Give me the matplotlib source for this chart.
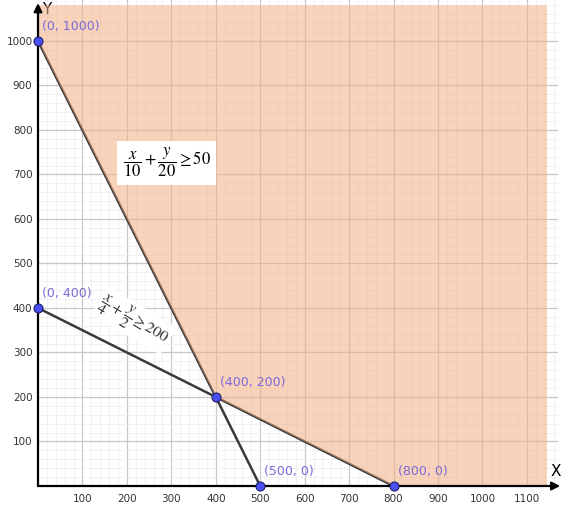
import matplotlib.pyplot as plt
from matplotlib.patches import Polygon
from matplotlib.ticker import MultipleLocator

plt.rcParams['mathtext.fontset'] = 'stix'

# corner points of the constraints
pt_x = [0, 0, 400, 500, 800]
pt_y = [1000, 400, 200, 0, 0]
pt_labels = ['(0, 1000)', '(0, 400)', '(400, 200)', '(500, 0)', '(800, 0)']

# constraint lines  x/10 + y/20 = 50  and  x/4 + y/2 = 200
line1_x = [0, 500]
line1_y = [1000, 0]
line2_x = [0, 800]
line2_y = [400, 0]

# feasible (shaded) region
region_x = [0, 0, 400, 800, 1145, 1145]
region_y = [1080, 1000, 200, 0, 0, 1080]

x_ticks = list(range(100, 1200, 100))
y_ticks = list(range(100, 1100, 100))

fig = plt.figure(figsize=(5.7, 5.05), dpi=100)
ax = fig.add_axes([38 / 570, 19 / 505, 520 / 570, 486 / 505])
ax.set_xlim(0, 1170)
ax.set_ylim(0, 1092)

# grid
ax.xaxis.set_major_locator(MultipleLocator(100))
ax.yaxis.set_major_locator(MultipleLocator(100))
ax.xaxis.set_minor_locator(MultipleLocator(20))
ax.yaxis.set_minor_locator(MultipleLocator(20))
ax.grid(which='major', color='#c8c8c8', lw=0.9, zorder=0)
ax.grid(which='minor', color='#ebebeb', lw=0.5, zorder=0)
ax.set_axisbelow(True)
for s in ax.spines.values():
    s.set_visible(False)
ax.tick_params(which='both', length=0)
ax.set_xticks(x_ticks)
ax.set_xticklabels([str(v) for v in x_ticks], fontsize=7.5, color='#333333')
ax.set_yticks(y_ticks)
ax.set_yticklabels([str(v) for v in y_ticks], fontsize=7.5, color='#333333')
ax.tick_params(axis='x', pad=6)
ax.tick_params(axis='y', pad=4)

# axes with arrows
ax.annotate('', xy=(1175, 0), xytext=(0, 0), xycoords='data',
            arrowprops=dict(arrowstyle='-|>', color='black', lw=1.6,
                            mutation_scale=12, shrinkA=0, shrinkB=0),
            annotation_clip=False, zorder=5)
ax.annotate('', xy=(0, 1085), xytext=(0, 0), xycoords='data',
            arrowprops=dict(arrowstyle='-|>', color='black', lw=1.6,
                            mutation_scale=12, shrinkA=0, shrinkB=0),
            annotation_clip=False, zorder=5)
ax.text(1165, 15, 'X', fontsize=11, ha='center', va='bottom')
ax.text(20, 1070, 'Y', fontsize=11, ha='center', va='center')

# lines
ax.plot(line1_x, line1_y, color='#3a3a3a', lw=1.8, zorder=3)
ax.plot(line2_x, line2_y, color='#3a3a3a', lw=1.8, zorder=3)

# shaded region
poly = Polygon(list(zip(region_x, region_y)), closed=True,
               facecolor='#f5ae84', alpha=0.55, edgecolor='none', zorder=4)
ax.add_patch(poly)

# points and labels
ax.scatter(pt_x, pt_y, s=42, color='#4a4ef0', edgecolors='#20206a',
           linewidths=0.8, zorder=6, clip_on=False)
for x, y, lab in zip(pt_x, pt_y, pt_labels):
    ax.annotate(lab, (x, y), xytext=(3, 6), textcoords='offset points',
                fontsize=9, color='#7a6ad8', ha='left', va='bottom', zorder=7)

# inequality labels
ax.text(290, 726, r'$\dfrac{x}{10}+\dfrac{y}{20}\geq 50$', fontsize=12,
        ha='center', va='center', zorder=7,
        bbox=dict(facecolor='white', edgecolor='none', pad=4))
ax.text(216, 372, r'$\dfrac{x}{4}+\dfrac{y}{2}\geq 200$', fontsize=11.5,
        ha='center', va='center', rotation=-31, rotation_mode='anchor',
        color='#333333', zorder=7,
        bbox=dict(facecolor='white', edgecolor='none', pad=1))

fig.savefig('out.png', dpi=100)
